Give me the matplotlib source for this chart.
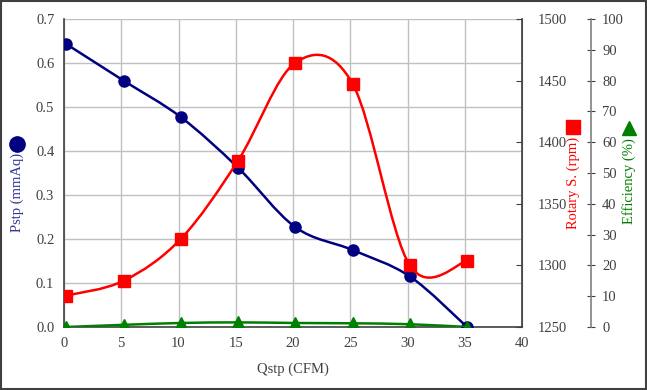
import numpy as np
import matplotlib
matplotlib.use("Agg")
import matplotlib.pyplot as plt
from matplotlib.path import Path
from matplotlib.patches import PathPatch, Rectangle
from matplotlib.lines import Line2D

plt.rcParams["font.family"] = ["Liberation Serif", "DejaVu Serif"]

# data
qstp = [0.2, 5.2, 10.2, 15.2, 20.2, 25.2, 30.2, 35.2]
pstp = [0.643, 0.560, 0.477, 0.362, 0.227, 0.175, 0.115, 0.0]
rotary = [1275.5, 1287.5, 1321.5, 1385.0, 1464.5, 1447.5, 1300.0, 1303.5]
efficiency = [0.0, 0.7, 1.3, 1.5, 1.3, 1.2, 0.9, 0.0]

BLUE = "#000080"
RED = "#FF0000"
GREEN = "#008000"
TICK = "#404040"
FS = 10.5


def smooth_path(xs, ys):
    # Catmull-Rom turned into cubic Bezier segments (like spreadsheet "smoothed line")
    pts = np.column_stack([xs, ys]).astype(float)
    n = len(pts)
    verts = [pts[0]]
    codes = [Path.MOVETO]
    for i in range(n - 1):
        p0 = pts[i - 1] if i > 0 else pts[i]
        p1 = pts[i]
        p2 = pts[i + 1]
        p3 = pts[i + 2] if i + 2 < n else pts[i + 1]
        c1 = p1 + (p2 - p0) / 6.0
        c2 = p2 - (p3 - p1) / 6.0
        verts += [c1, c2, p2]
        codes += [Path.CURVE4] * 3
    return Path(verts, codes)


fig = plt.figure(figsize=(6.47, 3.9), dpi=100)
ax = fig.add_axes([64 / 647, 1 - 327 / 390, 458 / 647, 308 / 390])
ax2 = ax.twinx()
ax3 = ax.twinx()

# main axis
ax.set_xlim(0, 40)
ax.set_ylim(0, 0.7)
ax.set_xticks(range(0, 41, 5))
ax.set_yticks(np.arange(0, 0.71, 0.1))
ax.set_yticklabels(["0.0", "0.1", "0.2", "0.3", "0.4", "0.5", "0.6", "0.7"])
ax.grid(True, color="#c0c0c0", lw=1.0)
ax.set_axisbelow(True)
ax.tick_params(direction="in", length=0, labelsize=FS, colors=TICK, pad=7)
for s in ax.spines.values():
    s.set_color("#808080")
ax.spines["left"].set_color(TICK)
ax.spines["left"].set_linewidth(1.2)
ax.spines["bottom"].set_color(TICK)
ax.spines["bottom"].set_linewidth(1.2)
ax.spines["top"].set_visible(False)
ax.set_xlabel("Qstp (CFM)", fontsize=FS, color=TICK, labelpad=9)

ax.add_patch(PathPatch(smooth_path(qstp, pstp), fill=False, ec=BLUE, lw=1.8, zorder=3))
ax.plot(qstp, pstp, ls="none", marker="o", ms=8, color=BLUE, zorder=4)

# rotary speed axis
ax2.set_ylim(1250, 1500)
ax2.set_yticks(range(1250, 1501, 50))
ax2.tick_params(direction="in", length=4, labelsize=FS, colors=TICK, pad=11)
ax2.spines["right"].set_color(TICK)
ax2.spines["right"].set_linewidth(1.2)
for k in ("left", "top", "bottom"):
    ax2.spines[k].set_visible(False)
ax2.add_patch(PathPatch(smooth_path(qstp, rotary), fill=False, ec=RED, lw=1.8, zorder=3))
ax2.plot(qstp, rotary, ls="none", marker="s", ms=8, color=RED, zorder=4)

# efficiency axis
ax3.spines["right"].set_position(("axes", 1.1507))
ax3.set_ylim(0, 100)
ax3.set_yticks(range(0, 101, 10))
ax3.tick_params(direction="inout", length=6, labelsize=FS, colors=TICK, pad=5)
ax3.spines["right"].set_color("#808080")
ax3.spines["right"].set_linewidth(1.2)
for k in ("left", "top", "bottom"):
    ax3.spines[k].set_visible(False)
ax3.add_patch(PathPatch(smooth_path(qstp, efficiency), fill=False, ec=GREEN, lw=1.8, zorder=3))
ax3.plot(qstp, efficiency, ls="none", marker="^", ms=8, color=GREEN, zorder=4)

# axis titles with their symbols
fig.text(17 / 647, 1 - 192 / 390, "Pstp (mmAq)", rotation=90, color="#333399",
         fontsize=FS, ha="center", va="center")
fig.add_artist(Line2D([17 / 647], [1 - 144 / 390], marker="o", ms=11, color=BLUE,
                      transform=fig.transFigure))
fig.text(573 / 647, 1 - 183 / 390, "Rotary S. (rpm)", rotation=90, color=RED,
         fontsize=FS, ha="center", va="center")
fig.add_artist(Line2D([573 / 647], [1 - 127 / 390], marker="s", ms=10, color=RED,
                      transform=fig.transFigure))
fig.text(629 / 647, 1 - 181 / 390, "Efficiency (%)", rotation=90, color=GREEN,
         fontsize=FS, ha="center", va="center")
fig.add_artist(Line2D([629 / 647], [1 - 128 / 390], marker="^", ms=10, color=GREEN,
                      transform=fig.transFigure))

# outer frame
fig.add_artist(Rectangle((0.002, 0.003), 0.996, 0.994, transform=fig.transFigure,
                         fill=False, ec="#404040", lw=1.5))

fig.savefig("out.png", dpi=100)
